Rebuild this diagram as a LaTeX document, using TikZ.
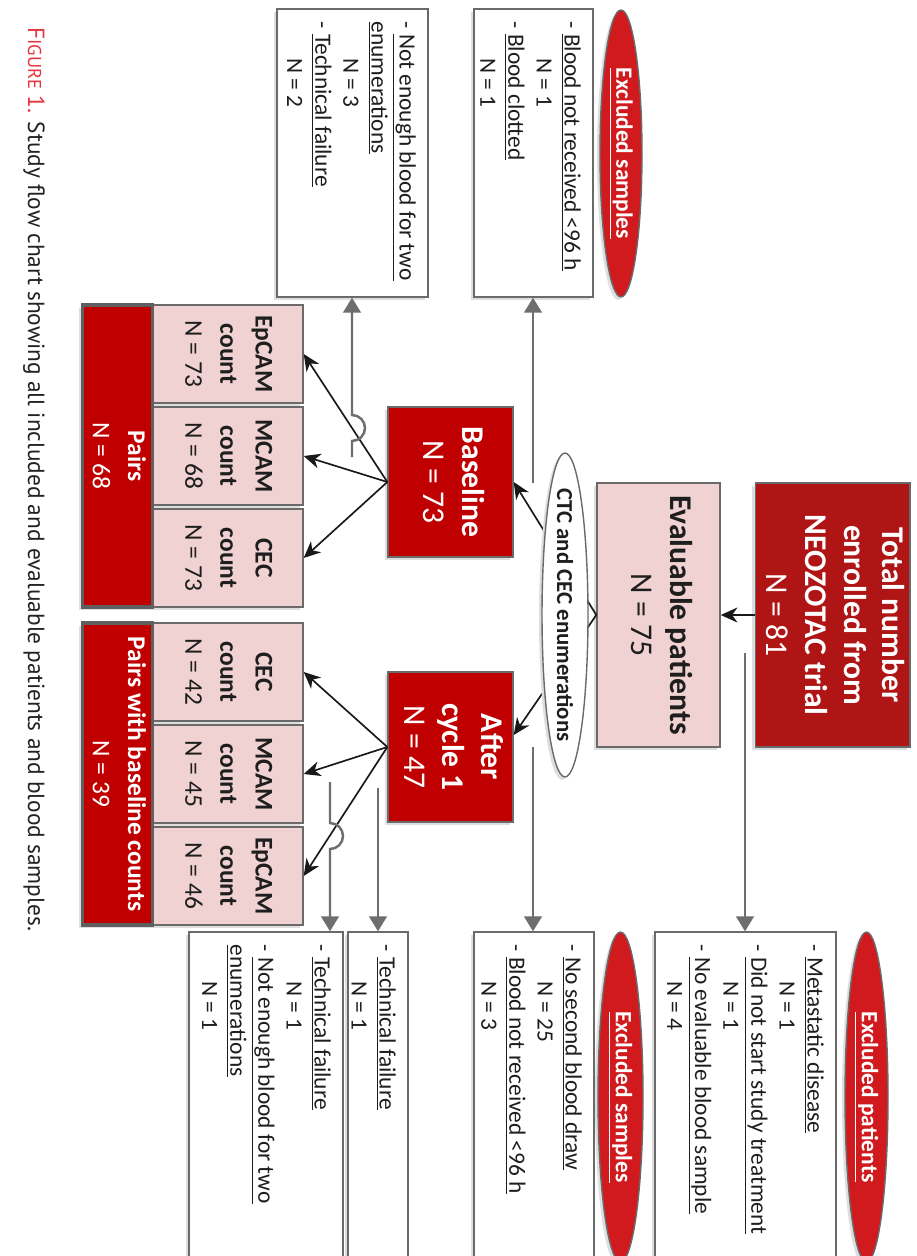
\documentclass[tikz,border=0pt]{standalone}
\usepackage{fontspec}
\setmainfont{Carlito}
\newfontfamily\capfont{PT Sans}
\usepackage{graphicx}
\usetikzlibrary{shapes.geometric,arrows.meta,shadows,calc}
\definecolor{boxred}{HTML}{C00000}
\definecolor{darkred}{HTML}{B01515}
\definecolor{ellred}{HTML}{D01A1E}
\definecolor{pinkf}{HTML}{F0D2D2}
\definecolor{bgray}{HTML}{6A6A6A}
\definecolor{lgray}{HTML}{6E6E6E}
\definecolor{txt}{HTML}{1E1E1E}
\definecolor{figred}{HTML}{E8333E}
\definecolor{captxt}{HTML}{222222}
\newcommand{\rtx}[1]{\rotatebox{-90}{#1}}
\newcommand{\ctab}[1]{\begin{tabular}{@{}c@{}}#1\end{tabular}}
\newcommand{\ltab}[1]{\begin{tabular}{@{}l@{}}#1\end{tabular}}
\newcommand{\ind}{\hspace*{21pt}}
\newcommand{\fbig}{\fontsize{18}{22}\selectfont}
\newcommand{\fmed}{\fontsize{14.5}{20}\selectfont}
\newcommand{\fex}{\fontsize{13.3}{16}\selectfont}
\newcommand{\fctc}{\fontsize{13}{16}\selectfont}
\begin{document}
\begin{tikzpicture}[x=0.02cm,y=-0.02cm,
  shad/.style={drop shadow={shadow xshift=-0.06cm,shadow yshift=-0.06cm,fill=black!13,opacity=1}},
  redbox/.style={shad,draw=bgray,line width=0.8pt,fill=boxred,text=white,inner sep=0pt},
  darkbox/.style={shad,draw=bgray,line width=0.8pt,fill=darkred,text=white,inner sep=0pt},
  pinkbox/.style={shad,draw=bgray,line width=0.8pt,fill=pinkf,text=txt,inner sep=0pt},
  pairbox/.style={shad,draw=bgray!90!black,line width=2pt,fill=boxred,text=white,inner sep=0pt},
  exbox/.style={shad,draw=bgray,line width=0.8pt,fill=white,inner sep=0pt},
  extext/.style={anchor=north east,inner sep=0pt,text=txt},
  redell/.style={shad,ellipse,draw=bgray,line width=0.8pt,fill=ellred,inner sep=0pt},
  blk/.style={draw=black!90,line width=0.95pt,-{Stealth[length=9.5pt,width=8.5pt,inset=3pt]}},
  gl/.style={draw=lgray,line width=1.4pt,-{Triangle[length=8.5pt,width=10pt]}}]
\useasboundingbox (0,0) rectangle (916,1256);
\clip (0,0) rectangle (916,1256);
\fill[white] (0,0) rectangle (916,1256);

% caption
\node[anchor=north east,inner sep=0pt,text=captxt] (cap) at (45,27)
  {\rtx{\capfont\fontsize{13.3}{15}\selectfont{\color{figred}F{\fontsize{10.6}{12}\selectfont IGURE} 1.} Study flow chart showing all included and evaluable patients and blood samples.}};

% main column
\node[darkbox,minimum width=3.02cm,minimum height=5.28cm] (total) at (832.5,615)
  {\rtx{\fbig\ctab{\textbf{Total number}\\\textbf{enrolled from}\\\textbf{NEOZOTAC trial}\\N = 81}}};
\node[pinkbox,minimum width=2.46cm,minimum height=5.28cm] (eval) at (658.5,615)
  {\rtx{\fbig\ctab{\textbf{Evaluable patients}\\N = 75}}};
\draw[blk] (total.west) -- (eval.east);

\node[redbox,minimum width=2.5cm,minimum height=3.0cm] (base) at (450.5,482)
  {\rtx{\fbig\ctab{\textbf{Baseline}\\N = 73}}};
\node[redbox,minimum width=2.5cm,minimum height=3.0cm] (after) at (450.5,747)
  {\rtx{\fbig\ctab{\textbf{After}\\\textbf{cycle 1}\\N = 47}}};
\draw[blk] (eval.west) -- (base.east);
\draw[blk] (eval.west) -- ([yshift=0.24cm]after.east);

\node[shad,ellipse,draw=bgray,line width=0.8pt,fill=white,minimum width=0.92cm,minimum height=6.48cm,inner sep=0pt] (ctc) at (565,615) {};
\node[inner sep=0pt,text=txt] (ctclab) at (ctc) {\rtx{\fctc\textbf{CTC and CEC enumerations}}};

% count boxes
\node[pinkbox,minimum width=3.02cm,minimum height=1.96cm] (ep73) at (227.5,354) {\rtx{\fmed\ctab{\textbf{EpCAM}\\\textbf{count}\\N = 73}}};
\node[pinkbox,minimum width=3.02cm,minimum height=1.96cm] (mc68) at (227.5,456) {\rtx{\fmed\ctab{\textbf{MCAM}\\\textbf{count}\\N = 68}}};
\node[pinkbox,minimum width=3.02cm,minimum height=1.96cm] (ce73) at (227.5,558) {\rtx{\fmed\ctab{\textbf{CEC}\\\textbf{count}\\N = 73}}};
\node[pinkbox,minimum width=3.02cm,minimum height=1.96cm] (ce42) at (227.5,672) {\rtx{\fmed\ctab{\textbf{CEC}\\\textbf{count}\\N = 42}}};
\node[pinkbox,minimum width=3.02cm,minimum height=1.96cm] (mc45) at (227.5,774) {\rtx{\fmed\ctab{\textbf{MCAM}\\\textbf{count}\\N = 45}}};
\node[pinkbox,minimum width=3.02cm,minimum height=1.96cm] (ep46) at (227.5,876) {\rtx{\fmed\ctab{\textbf{EpCAM}\\\textbf{count}\\N = 46}}};

\node[pairbox,minimum width=1.22cm,minimum height=6.04cm] (pairs) at (117.5,456) {\rtx{\fmed\ctab{\textbf{Pairs}\\N = 68}}};
\node[pairbox,minimum width=1.22cm,minimum height=6.04cm] (pairs2) at (117.5,774) {\rtx{\fmed\ctab{\textbf{Pairs with baseline counts}\\N = 39}}};

\draw[blk] (base.west) -- (ep73.east);
\draw[blk] (base.west) -- (mc68.east);
\draw[blk] (base.west) -- (ce73.east);
\draw[blk] (after.west) -- (ce42.east);
\draw[blk] (after.west) -- (mc45.east);
\draw[blk] (after.west) -- (ep46.east);

% excluded boxes top
\node[exbox,minimum width=2.38cm,minimum height=5.76cm] (extopr) at (533.5,153) {};
\node[extext] (extoprt) at ($(extopr.north east)+(-9,13)$)
  {\rtx{\fex\ltab{- \underline{Blood not received <96 h}\\\ind N = 1\\- \underline{Blood clotted}\\\ind N = 1}}};
\node[exbox,minimum width=3.02cm,minimum height=5.76cm] (extopl) at (352.5,153) {};
\node[extext] (extoplt) at ($(extopl.north east)+(-9,13)$)
  {\rtx{\fex\ltab{- \underline{Not enough blood for two}\\\underline{enumerations}\\\ind N = 3\\- \underline{Technical failure}\\\ind N = 2}}};
\node[redell,minimum width=0.84cm,minimum height=5.74cm] (ell1) at (621,153.5) {};
\node[inner sep=0pt,text=white] (ell1t) at (ell1) {\rtx{\fex\textbf{\underline{Excluded samples}}}};

% excluded boxes bottom
\node[exbox,minimum width=3.62cm,minimum height=6.68cm] (expat) at (745.5,1099) {};
\node[extext] (expatt) at ($(expat.north east)+(-9,13)$)
  {\rtx{\fex\ltab{- \underline{Metastatic disease}\\\ind N = 1\\- \underline{Did not start study treatment}\\\ind N = 1\\- \underline{No evaluable blood sample}\\\ind N = 4}}};
\node[redell,minimum width=0.86cm,minimum height=6.6cm] (ell2) at (866.5,1097) {};
\node[inner sep=0pt,text=white] (ell2t) at (ell2) {\rtx{\fex\textbf{\underline{Excluded patients}}}};

\node[exbox,minimum width=2.4cm,minimum height=6.68cm] (exs2) at (534,1099) {};
\node[extext] (exs2t) at ($(exs2.north east)+(-9,13)$)
  {\rtx{\fex\ltab{- \underline{No second blood draw}\\\ind N = 25\\- \underline{Blood not received <96 h}\\\ind N = 3}}};
\node[redell,minimum width=0.9cm,minimum height=6.6cm] (ell3) at (620.5,1097) {};
\node[inner sep=0pt,text=white] (ell3t) at (ell3) {\rtx{\fex\textbf{\underline{Excluded samples}}}};

\node[exbox,minimum width=1.2cm,minimum height=6.68cm] (tech) at (378,1099) {};
\node[extext] (techt) at ($(tech.north east)+(-9,13)$)
  {\rtx{\fex\ltab{- \underline{Technical failure}\\\ind N = 1}}};
\node[exbox,minimum width=3.08cm,minimum height=6.68cm] (technot) at (266,1099) {};
\node[extext] (technott) at ($(technot.north east)+(-9,13)$)
  {\rtx{\fex\ltab{- \underline{Technical failure}\\\ind N = 1\\- \underline{Not enough blood for two}\\\underline{enumerations}\\\ind N = 1}}};

% gray connectors
\coordinate (g1) at (745,653);
\draw[gl] (g1) -- (g1 |- expat.north);
\coordinate (g2) at (533,483);
\draw[gl] (g2) -- (g2 |- extopr.south);
\coordinate (g3) at (352,457);
\draw[gl] (g3) -- (352,441) arc[start angle=90,end angle=-90,radius=13] -- (g3 |- extopl.south);
\coordinate (g4) at (533,747);
\draw[gl] (g4) -- (g4 |- exs2.north);
\coordinate (g5) at (378,788);
\draw[gl] (g5) -- (g5 |- tech.north);
\coordinate (g6) at (330,782);
\draw[gl] (g6) -- (330,823) arc[start angle=-90,end angle=90,radius=13] -- (g6 |- technot.north);
\end{tikzpicture}
\end{document}
